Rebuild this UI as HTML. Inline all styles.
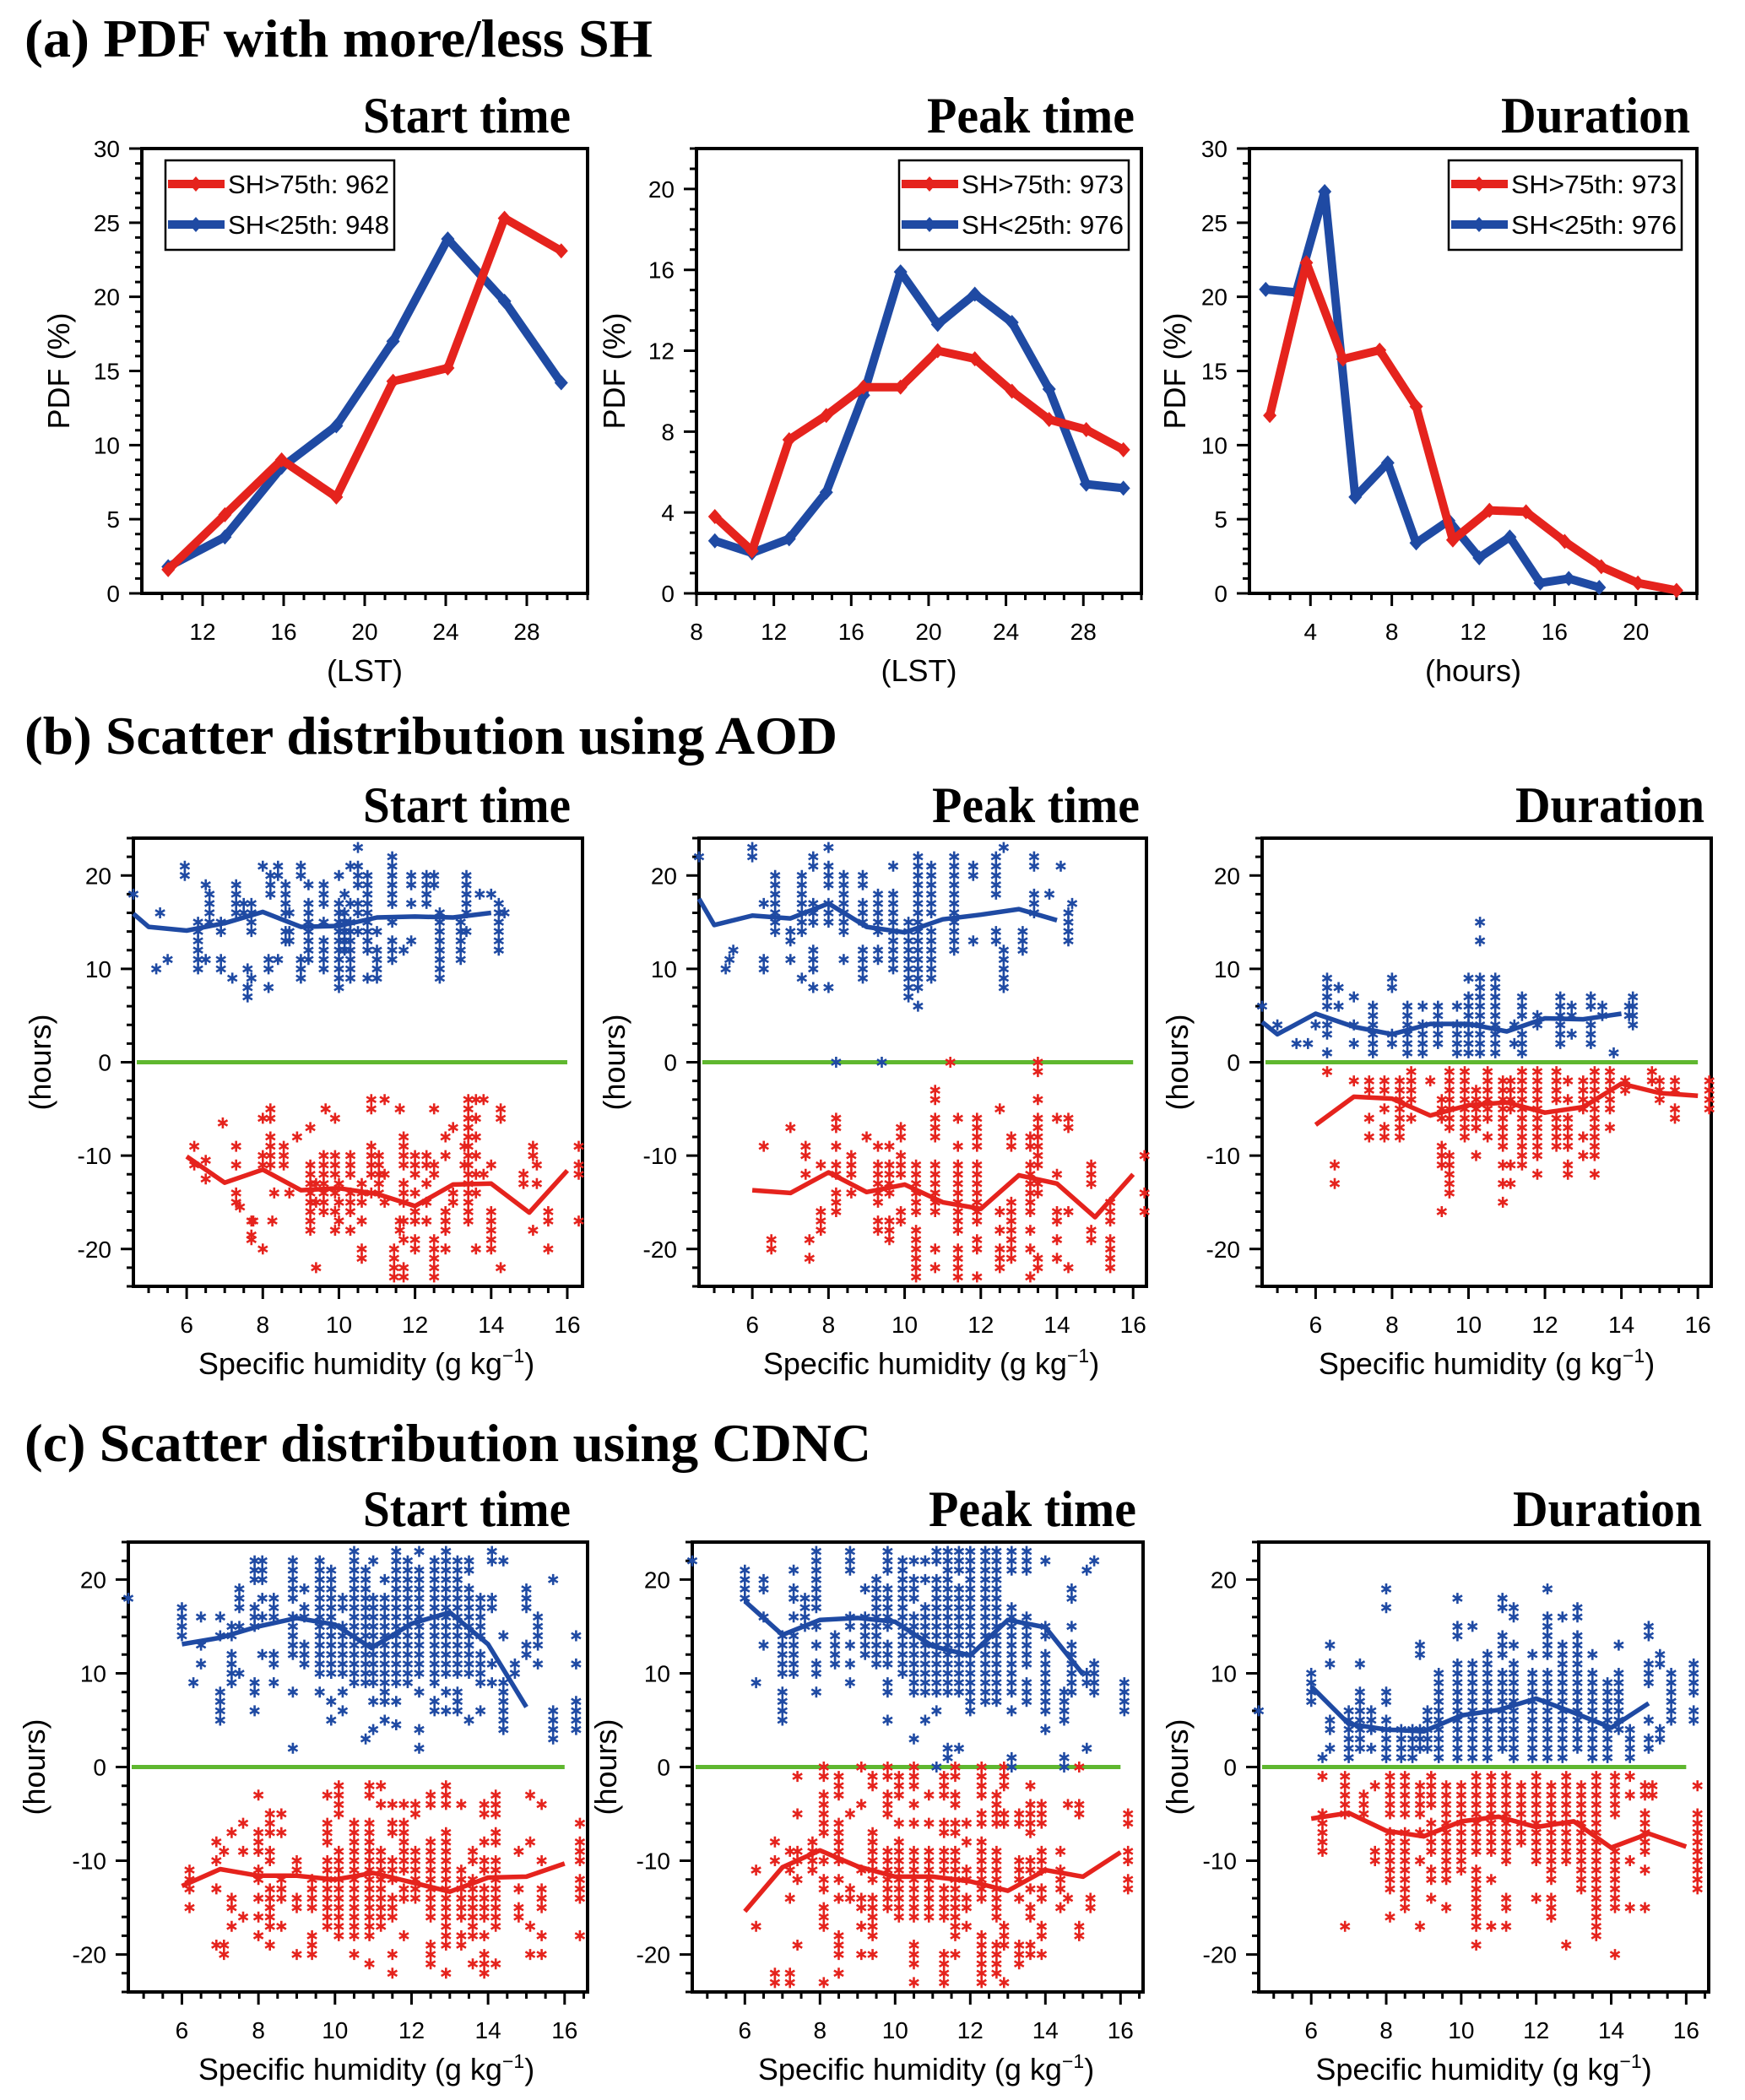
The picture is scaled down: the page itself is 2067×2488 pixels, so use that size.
<!DOCTYPE html>
<html><head><meta charset="utf-8"><title>PDF and scatter distributions by specific humidity</title>
<style>
html,body{margin:0;padding:0;background:#fff;}
svg{display:block;}
text{font-family:"Liberation Sans",sans-serif;fill:#000;}
.serif{font-family:"Liberation Serif",serif;font-weight:bold;}
</style></head>
<body>
<svg id="fig" xmlns="http://www.w3.org/2000/svg" width="2067" height="2488" viewBox="0 0 2067 2488"></svg>
<script>
// ---------- Row (a) PDF data ----------
const aStartX = [10.3,13.1,15.9,18.6,21.4,24.1,26.9,29.7];
const aStartRed = [1.6,5.3,9.0,6.5,14.3,15.2,25.3,23.1];
const aStartBlue = [1.8,3.8,8.5,11.3,17.0,23.9,19.7,14.2];
const aPeakX = [8.95,10.87,12.79,14.71,16.63,18.55,20.47,22.39,24.31,26.23,28.15,30.07];
const aPeakRed = [3.8,2.1,7.6,8.8,10.2,10.2,12.0,11.6,10.0,8.6,8.1,7.1];
const aPeakBlue = [2.6,2.0,2.7,5.0,9.8,15.9,13.3,14.8,13.4,10.1,5.4,5.2];
const aDurRedX = [2.0,3.8,5.6,7.4,9.2,11.0,12.8,14.6,16.5,18.3,20.1,22.0];
const aDurRed = [12.0,22.3,15.8,16.4,12.6,3.6,5.6,5.5,3.5,1.8,0.7,0.2];
const aDurBlueX = [1.8,3.3,4.7,6.2,7.8,9.2,10.8,12.3,13.8,15.3,16.7,18.2];
const aDurBlue = [20.5,20.3,27.1,6.5,8.8,3.4,4.9,2.4,3.8,0.7,1.0,0.4];
const legendStart = ["SH>75th: 962","SH<25th: 948"];
const legendPeak = ["SH>75th: 973","SH<25th: 976"];
const legendDur = ["SH>75th: 973","SH<25th: 976"];

// ---------- Binned mean lines (rows b, c) ----------
const binX = [6,7,8,9,10,11,12,13,14,15,16];
const bStartBlueLineX = [4.6,5,6,7,8,9,10,11,12,13,14];
const bStartBlueLine = [15.9,14.5,14.1,14.9,16.1,14.5,14.6,15.5,15.6,15.5,16.0];
const bStartRedLine = [-10.1,-12.9,-11.5,-13.7,-13.5,-14.1,-15.4,-13.1,-13.0,-16.1,-11.6];
const bPeakBlueLineX = [4.6,5,6,7,8,9,10,11,12,13,14];
const bPeakBlueLine = [17.5,14.7,15.7,15.4,17.0,14.5,13.9,15.3,15.8,16.4,15.2];
const bPeakRedLine = [-13.7,-14.0,-11.8,-13.9,-13.1,-15.0,-15.7,-12.1,-13.0,-16.6,-12.0];
const bDurBlueLineX = [4.6,5,6,7,8,9,10,11,12,13,14];
const bDurBlueLine = [4.3,3.0,5.2,3.8,3.0,4.1,4.1,3.3,4.7,4.6,5.2];
const bDurRedLine = [-6.7,-3.7,-3.9,-5.7,-4.6,-4.3,-5.4,-4.8,-2.3,-3.3,-3.6];
const cStartBlueLineX = [6,7,8,9,10,10.95,12,13,14,15];
const cStartBlueLine = [13.1,13.8,15.0,15.9,15.2,12.7,15.3,16.5,13.1,6.4];
const cStartRedLine = [-12.7,-10.9,-11.6,-11.6,-12.0,-11.3,-12.3,-13.3,-11.8,-11.7,-10.3];
const cPeakBlueLineX = [6,7,8,9,10,11,12,13,14,15];
const cPeakBlueLine = [17.7,14.1,15.7,15.9,15.5,12.9,11.9,15.7,14.9,9.9];
const cPeakRedLine = [-15.4,-10.7,-8.9,-10.6,-11.7,-11.7,-12.2,-13.2,-11.0,-11.7,-9.1];
const cDurBlueLineX = [6,7,8,9,10,11,12,13,14,15];
const cDurBlueLine = [8.6,4.6,4.0,3.8,5.5,6.1,7.3,5.8,4.2,6.8];
const cDurRedLine = [-5.5,-4.9,-6.8,-7.4,-5.8,-5.3,-6.4,-5.8,-8.6,-7.1,-8.5];

// ---------- Scatter columns: [specific humidity, [hours...]] ----------
const bStartBlueCols = [[4.6,[18]],[5.3,[16]],[5.2,[10]],[5.5,[11]],[5.95,[20,21]],[6.3,[15,14,13,12,11,10]],[6.5,[19,11]],[6.6,[18,17,16,15]],[6.9,[15,11,10,14]],[7.2,[9]],[7.3,[19,18,17,16]],[7.5,[17,16]],[7.6,[10,8,7]],[7.7,[17,16,15,14,9]],[8.0,[21]],[8.15,[10,11,8]],[8.2,[20,19,18]],[8.4,[21,20,11]],[8.6,[19,18,17,16,14,13]],[8.7,[16,14,13]],[9.0,[21,20,11,10,9]],[9.2,[17,16,15,14,13,12,11,19]],[9.6,[18,17,15,13,12,11,10,19]],[10.0,[20,17,16,15,14,13,12,11,10,9,8]],[10.15,[16,15,14,13,12,18]],[10.3,[21,17,15,14,13,12,11,10,9]],[10.5,[23,21,20,19,17,16,14]],[10.75,[20,19,18,17,16,15,14,13,12,9]],[11.0,[14,12,11,10,9]],[11.4,[22,21,20,19,18,17,15,13,12,11]],[11.7,[12]],[11.9,[20,19,17,13]],[12.3,[20,19,18,17]],[12.5,[20,19]],[12.65,[16,15,14,13,12,11,10,9]],[13.2,[15,14,13,12,11]],[13.35,[20,19,18,17,16,14]],[13.7,[18]],[14.0,[18]],[14.2,[17,16,15,14,13,12]],[14.35,[16]]];
const bStartRedCols = [[6.2,[-9,-11]],[6.5,[-10.5,-12.5]],[6.95,[-6.5]],[7.3,[-9,-11,-14,-15]],[7.4,[-15.5]],[7.7,[-17,-18.5,-19]],[7.75,[-17]],[8.0,[-10,-20,-6,-11]],[8.2,[-5,-6,-8,-9,-10,-11]],[8.25,[-17]],[8.3,[-14]],[8.55,[-9,-10,-11]],[8.7,[-14]],[8.9,[-8]],[9.25,[-7,-11,-12,-13,-14,-15,-16,-17,-18]],[9.4,[-13,-15,-22]],[9.6,[-10,-11,-12,-13,-14,-15,-16]],[9.65,[-5]],[9.9,[-6,-10,-11,-12,-14,-16,-18]],[10.0,[-13,-15,-17]],[10.3,[-10,-11,-12,-14,-15,-16,-18]],[10.6,[-13,-14,-15,-17,-20,-21]],[10.85,[-4,-5,-9,-10,-11,-12,-14]],[11.05,[-10,-11,-12,-13,-14]],[11.2,[-4,-12,-15]],[11.45,[-20,-21,-22,-23]],[11.6,[-5,-17,-18]],[11.7,[-8,-9,-10,-11,-13,-14,-15,-17,-19,-22,-23]],[12.0,[-10,-11,-12,-14,-16,-17,-19,-20]],[12.3,[-10,-11,-13,-15,-17]],[12.5,[-5,-11,-12,-19,-20,-21,-22,-23]],[12.8,[-8,-10,-16,-17,-18,-20]],[13.0,[-7,-14,-15]],[13.3,[-9,-11]],[13.4,[-4,-5,-6,-7,-8,-9,-10,-11,-12,-13,-14,-15,-16,-17]],[13.6,[-4,-6,-8,-10,-12,-14,-20]],[13.8,[-4,-12]],[14.0,[-11,-16,-17,-18,-19,-20]],[14.25,[-5,-6,-22]],[14.85,[-12,-13]],[15.1,[-9,-10,-18]],[15.2,[-11,-13]],[15.5,[-16,-17,-20]],[16.3,[-9,-11,-12,-17]]];
const bPeakBlueCols = [[4.6,[22]],[5.3,[10]],[5.4,[11]],[5.5,[12]],[6.0,[23,22]],[6.3,[11,10,17]],[6.6,[17,16,15,14,20,19,18]],[7.0,[14,13,11]],[7.3,[20,19,18,17,16,15,14,9]],[7.6,[22,21,17,16,15,12,11,10,8]],[8.0,[23,21,20,19,17,16,15,8]],[8.2,[0]],[8.4,[20,19,18,17,16,15,14,11]],[8.9,[20,19,17,16,15,12,11,10,9]],[9.3,[18,17,16,15,14,11,12]],[9.4,[0]],[9.7,[21,18,17,16,15,14,13,12,11,10]],[10.1,[15,14,13,12,11,10,9,8,7]],[10.35,[22,21,20,19,18,17,16,15,14,13,12,11,10,9,8,6]],[10.7,[21,20,19,18,17,16,14,13,12,11,10,9]],[11.3,[22,21,20,19,18,17,16,15,14,13,12]],[11.8,[21,20,13]],[12.4,[22,21,20,19,18,14,13]],[12.6,[23,12,11,10,9,8]],[13.1,[14,13,12]],[13.4,[22,21,18,17,16]],[13.8,[18]],[14.1,[21]],[14.3,[16,15,14,13]],[14.4,[17]]];
const bPeakRedCols = [[6.3,[-9]],[6.5,[-19,-20]],[7.0,[-7]],[7.4,[-9,-10,-12]],[7.5,[-19,-21]],[7.8,[-11,-18,-17,-16]],[8.2,[-6,-7,-9,-11,-12,-14,-15,-16]],[8.6,[-11,-12,-14,-10]],[9.0,[-8]],[9.3,[-11,-12,-13,-14,-15,-17,-18,-9]],[9.6,[-9,-11,-12,-13,-14,-17,-18,-19]],[9.9,[-7,-8,-10,-11,-12,-16,-17]],[10.3,[-11,-12,-13,-14,-15,-16,-18,-19,-20,-21,-22,-23]],[10.8,[-3,-4,-6,-7,-8,-11,-12,-13,-14,-15,-16,-20,-22]],[11.2,[0]],[11.4,[-6,-9,-11,-12,-13,-14,-15,-16,-17,-18,-20,-21,-22,-23]],[11.9,[-6,-7,-8,-9,-11,-12,-13,-14,-15,-16,-17,-19,-20,-23]],[12.5,[-5,-16,-18,-20,-21,-22]],[12.8,[-8,-9,-15,-16,-17,-18,-19,-20,-21]],[13.3,[-8,-9,-11,-12,-13,-14,-15,-16,-18,-20,-23]],[13.5,[0,-1,-4,-6,-7,-8,-9,-10,-11,-13,-14,-21,-22]],[14.0,[-6,-12,-16,-17,-19,-21]],[14.3,[-6,-7,-16,-22]],[14.9,[-11,-12,-13,-18,-19]],[15.4,[-15,-16,-17,-19,-20,-21,-22]],[16.3,[-10,-14,-16]]];
const bDurBlueCols = [[4.6,[6]],[5.0,[4]],[5.5,[2]],[5.8,[2]],[6.0,[4]],[6.3,[9,8,7,6,4,3,1]],[6.6,[8,6]],[7.0,[7,4,2]],[7.5,[6,5,4,3,2,1]],[8.0,[9,8,3,2]],[8.4,[6,5,4,3,2,1]],[8.8,[6,4,3,2,1]],[9.2,[6,5,4,3,2]],[9.7,[6,4,3,2,1]],[10.0,[9,7,6,5,4,3,2,1]],[10.3,[15,13,9,8,7,6,5,4,3,2,1]],[10.7,[9,8,7,6,5,4,3,2,1]],[11.2,[4,2]],[11.4,[7,6,5,3,2,1]],[11.8,[5,4]],[12.4,[7,6,5,4,3,2]],[12.7,[6,5,3]],[13.2,[7,6,4,3,2]],[13.5,[6,5]],[13.8,[1]],[14.2,[6,5]],[14.3,[7,6,5,4]]];
const bDurRedCols = [[6.3,[-1]],[6.5,[-11,-13]],[7.0,[-2]],[7.4,[-2,-3,-6,-8]],[7.8,[-2,-3,-5,-7,-8]],[8.2,[-2,-3,-4,-5,-6,-7,-8]],[8.5,[-1,-2,-3,-4,-6]],[9.0,[-2]],[9.3,[-4,-5,-6,-9,-10,-11,-16]],[9.5,[-1,-2,-3,-4,-5,-6,-7,-10,-11,-12,-13,-14]],[9.9,[-1,-2,-3,-4,-5,-6,-7,-8]],[10.2,[-3,-4,-5,-6,-7,-10]],[10.5,[-1,-2,-3,-4,-5,-6,-8]],[10.9,[-2,-3,-4,-5,-6,-7,-8,-9,-11,-13,-15]],[11.1,[-2,-3,-4,-5,-11,-13]],[11.4,[-1,-2,-3,-4,-5,-6,-7,-8,-9,-10,-11]],[11.8,[-1,-2,-3,-4,-5,-6,-7,-8,-9,-10,-12]],[12.3,[-1,-2,-3,-4,-6,-7,-8,-9]],[12.6,[-2,-4,-6,-7,-8,-9,-11,-12]],[13.0,[-2,-3,-4,-5,-8,-10]],[13.3,[-1,-2,-3,-4,-5,-6,-7,-8,-9,-10,-12]],[13.7,[-1,-2,-3,-4,-5,-7]],[14.1,[-2,-3]],[14.8,[-1,-2]],[15.0,[-2,-3,-4]],[15.4,[-2,-3,-5,-6]],[16.3,[-2,-3,-4,-5]]];
const cStartBlueCols = [[4.6,[18]],[6.0,[17,16,15,14]],[6.3,[9]],[6.5,[16,13,11]],[7.0,[16,14,8,7,6,5]],[7.3,[15,14,12,11,10,9]],[7.5,[19,18,17,15,10]],[7.9,[22,21,20,17,16,15,9,8,6]],[8.1,[22,21,20,18,16,12]],[8.4,[18,17,16,12,11,9]],[8.9,[22,21,20,19,18,16,15,14,13,12,8,2]],[9.2,[19,17,16,13,12,11]],[9.6,[22,21,20,19,18,17,16,15,14,13,12,11,10,8]],[9.9,[21,20,19,18,17,16,15,14,13,12,11,10,7,5]],[10.2,[18,17,15,14,13,12,11,10,8,6]],[10.5,[23,22,21,20,19,18,17,16,15,14,13,12,11,10,9]],[10.8,[21,20,19,18,17,16,15,14,13,12,11,10,9,3]],[11.0,[22,18,17,16,15,14,13,12,11,10,9,7,4]],[11.3,[20,18,17,16,15,14,13,12,11,10,9,8,7,5]],[11.6,[23,22,21,20,19,18,17,16,15,14,13,12,11,10,9,7,4.5]],[11.9,[22,21,20,19,18,17,16,15,14,13,12,11,10,9]],[12.2,[23,21,20,19,18,17,16,15,14,13,12,11,10,8,4,2]],[12.6,[22,21,20,19,18,17,16,15,14,13,12,11,10,9,7,6]],[12.9,[23,22,21,20,19,18,17,16,15,14,13,12,11,10,8,6]],[13.2,[22,21,20,19,18,17,16,15,14,13,12,11,10,8,7,6]],[13.5,[22,21,19,18,17,16,15,14,13,12,11,10,5]],[13.8,[18,17,16,15,14,12,11,10,9,6]],[14.1,[23,22,18,17,11,9]],[14.4,[22,14,9,8,7,6,5,4]],[14.7,[11,10]],[15.0,[19,18,17,13,12]],[15.3,[16,15,14,13,11]],[15.7,[20,6,5,4,3]],[16.3,[14,11,7,6,5,4]]];
const cStartRedCols = [[6.2,[-11,-12,-13,-15]],[6.9,[-8,-10,-13,-19]],[7.1,[-9,-19,-20]],[7.3,[-7,-14,-15,-17]],[7.6,[-6,-9,-16]],[8.0,[-3,-7,-8,-9,-11,-12,-14,-16,-18]],[8.3,[-5,-6,-7,-9,-10,-13,-14,-15,-16,-17,-19]],[8.6,[-5,-7,-12,-13,-14,-17]],[9.0,[-10,-11,-14,-15,-20]],[9.4,[-12,-13,-14,-15,-18,-19,-20]],[9.8,[-3,-6,-7,-8,-10,-11,-12,-13,-14,-15,-16,-17]],[10.1,[-2,-3,-4,-5,-9,-10,-11,-12,-13,-14,-15,-16,-17,-18]],[10.5,[-6,-7,-8,-9,-10,-11,-12,-13,-14,-15,-16,-17,-18,-20]],[10.9,[-2,-3,-6,-7,-8,-9,-10,-11,-12,-13,-14,-15,-16,-17,-18,-21]],[11.2,[-2,-4,-9,-10,-11,-12,-13,-14,-15,-16,-17]],[11.5,[-4,-6,-7,-10,-11,-12,-14,-15,-16,-20,-22]],[11.8,[-4,-6,-7,-8,-9,-10,-11,-13,-14,-18]],[12.1,[-4,-5,-9,-10,-11,-12,-13,-14]],[12.5,[-3,-4,-8,-9,-10,-11,-12,-13,-14,-15,-16,-19,-20,-21]],[12.9,[-2,-3,-4,-7,-8,-9,-10,-11,-12,-13,-14,-15,-16,-17,-18,-19,-22]],[13.3,[-4,-11,-12,-13,-14,-15,-16,-18,-19]],[13.6,[-9,-10,-12,-13,-14,-15,-16,-17,-18,-21]],[13.9,[-4,-5,-8,-10,-11,-13,-14,-15,-16,-18,-20,-21,-22]],[14.2,[-3,-4,-5,-7,-8,-10,-11,-12,-13,-14,-15,-16,-17,-21]],[14.8,[-9,-13,-15,-16]],[15.1,[-3,-8,-17,-20]],[15.4,[-4,-10,-13,-14,-15,-18,-20]],[16.4,[-6,-8,-9,-10,-12,-13,-14,-18]]];
const cPeakBlueCols = [[4.6,[22]],[6.0,[21,20,19,18]],[6.3,[9]],[6.5,[20,19,16,13]],[7.0,[14,13,12,11,10,8,7,6,5]],[7.3,[21,19,18,16,14,13,12,11,10]],[7.6,[18,17,16,15]],[7.9,[23,22,21,20,19,18,17,15,13,11,10,8]],[8.4,[14,13,12,11]],[8.8,[23,22,21,16,15,13,11,9]],[9.2,[19,16,15,14,13,12]],[9.5,[20,19,18,17,16,15,14,13,12,11]],[9.8,[23,22,21,19,18,17,16,15,13,12,11,9,8,5]],[10.2,[22,21,20,19,18,17,16,15,14,13,12,11,10]],[10.5,[22,20,19,18,16,15,14,13,12,11,10,9,8,3]],[10.8,[22,20,17,16,15,14,13,12,11,10,9,8,5]],[11.1,[23,22,20,19,18,17,16,15,14,13,12,11,10,9,8,6,0]],[11.4,[23,22,21,20,19,18,17,16,15,14,13,12,11,10,9,8,2,1]],[11.7,[23,22,21,19,18,17,16,15,14,13,12,11,10,9,8,2]],[12.0,[23,22,21,20,19,18,17,16,15,14,13,12,11,10,9,8,7,6]],[12.4,[23,22,21,20,19,18,17,16,15,14,13,12,11,10,9,8,7]],[12.7,[23,22,21,20,19,18,17,16,15,14,13,12,11,10,9,8,7]],[13.1,[23,22,21,17,16,15,14,13,12,11,10,9,8,6,1,0]],[13.5,[23,22,21,16,15,14,13,12,11,9,8,7]],[14.0,[22,15,14,12,11,10,9,8,7,6,4]],[14.5,[8,7,6,5,1,0]],[14.7,[19,18,15,13,12,11,10,9,8]],[15.1,[21,10,9,2]],[15.3,[22,11,10,9,8]],[16.1,[9,8,7,6]]];
const cPeakRedCols = [[6.3,[-11,-17]],[6.8,[-8,-10,-22,-23]],[7.2,[-9,-11,-14,-22,-23]],[7.4,[-1,-5,-9,-10,-12,-19]],[7.8,[-8,-9,-10,-11]],[8.1,[0,-1,-3,-4,-5,-6,-7,-10,-12,-13,-15,-16,-17,-23]],[8.5,[-1,-2,-3,-6,-7,-8,-9,-10,-12,-14,-18,-19,-20,-22]],[8.8,[-5,-13,-14]],[9.1,[0,-4,-11,-14,-15,-17,-20]],[9.4,[-1,-2,-7,-8,-9,-10,-11,-12,-14,-15,-16,-17,-18,-20]],[9.8,[0,-1,-3,-4,-5,-9,-10,-11,-12,-13,-14,-15]],[10.1,[-1,-2,-3,-6,-8,-9,-10,-11,-12,-13,-14,-15,-16]],[10.5,[0,-1,-2,-4,-6,-9,-10,-11,-12,-13,-14,-15,-16,-19,-20,-21,-23]],[10.9,[-3,-6,-9,-10,-11,-12,-13,-14,-15,-16]],[11.3,[-1,-2,-3,-6,-7,-9,-10,-11,-13,-14,-15,-16,-20,-21,-22,-23]],[11.6,[0,-1,-3,-4,-6,-7,-9,-10,-11,-12,-13,-14,-15,-16,-17,-18,-20]],[11.9,[-6,-8,-11,-12,-14,-15,-17]],[12.3,[0,-1,-2,-3,-5,-6,-8,-9,-10,-11,-12,-13,-14,-18,-19,-20,-21,-22,-23]],[12.7,[-3,-4,-5,-6,-9,-10,-11,-12,-13,-14,-15,-16,-19,-20,-21,-22]],[12.9,[0,-1,-2,-5,-6,-17,-18,-19,-23]],[13.3,[-5,-6,-10,-11,-12,-14,-19,-20,-21]],[13.6,[-2,-4,-5,-6,-7,-10,-11,-13,-15,-16,-19,-20]],[13.9,[-4,-5,-6,-9,-10,-11,-13,-14,-17,-18,-20]],[14.4,[-9,-11,-12,-13,-15]],[14.6,[-4,-14]],[14.9,[0,-4,-5,-17,-18]],[15.2,[-14,-15]],[16.2,[-5,-6,-9,-10,-12,-13]]];
const cDurBlueCols = [[4.6,[6]],[6.0,[10,9,8,7]],[6.3,[1]],[6.5,[13,11,5,4,2]],[7.0,[6,5,4,3,2,1]],[7.3,[11,8,7,6,5,4,3,2]],[7.6,[6,5,4,2]],[8.0,[19,17,8,7,5,4,3,2,1]],[8.4,[4,3,2,1]],[8.7,[4,3,2,1]],[8.9,[13,12,4,3,2]],[9.1,[6,5,4,3,2]],[9.4,[10,9,8,7,6,5,4,3,2,1]],[9.9,[18,15,14,11,10,9,8,7,6,5,4,3,2,1]],[10.3,[15,11,10,9,8,7,6,5,4,3,2,1]],[10.7,[12,11,10,9,8,7,6,5,4,3,2,1]],[11.1,[18,17,14,13,12,10,9,8,7,6,5,4,3,2]],[11.4,[17,16,13,11,10,9,8,7,6,5,4,3,2,1]],[11.9,[12,10,9,8,7,6,5,4,3,2,1]],[12.3,[19,16,15,14,13,12,10,9,8,7,6,5,4,3,2,1]],[12.7,[16,13,12,11,10,9,8,7,6,5,4,3,2,1]],[13.1,[17,16,14,13,12,11,10,9,8,7,6,5,4,3,2]],[13.5,[12,10,9,8,7,6,5,4,3,2,1]],[13.9,[9,8,7,6,5,4,3,2,1]],[14.2,[13,10,9,8,7,6,5,4]],[14.5,[4,3,2,1]],[15.0,[15,14,11,10,9,5,3,2]],[15.3,[12,11,4,3]],[15.6,[10,9,8,7,6,5]],[16.2,[11,10,9,8,6,5]]];
const cDurRedCols = [[6.3,[-1,-5,-6,-7,-8,-9]],[6.9,[-1,-2,-3,-4,-5,-17]],[7.4,[-3,-4,-5]],[7.7,[-2,-9,-10]],[8.1,[-1,-2,-3,-4,-5,-7,-8,-9,-10,-11,-12,-13,-16]],[8.5,[-1,-2,-3,-4,-5,-7,-8,-9,-10,-11,-12,-13,-14,-15]],[8.9,[-2,-3,-4,-5,-7,-10,-17]],[9.2,[-1,-2,-3,-4,-6,-7,-8,-9,-11,-12,-14]],[9.6,[-2,-3,-4,-5,-6,-7,-8,-9,-10,-11,-12,-15]],[10.0,[-2,-3,-4,-5,-6,-7,-8,-9,-10,-11]],[10.4,[-1,-2,-3,-4,-5,-6,-7,-8,-9,-11,-12,-13,-14,-15,-16,-17,-19]],[10.8,[-1,-2,-3,-4,-5,-6,-7,-8,-9,-12,-17]],[11.2,[-1,-2,-3,-4,-5,-6,-7,-8,-9,-10,-14,-15,-17]],[11.6,[-2,-3,-4,-5,-6,-7,-8]],[12.0,[-1,-2,-3,-4,-5,-6,-7,-8,-9,-10,-14]],[12.4,[-2,-3,-4,-5,-6,-7,-8,-9,-10,-11,-12,-14,-15,-16]],[12.8,[-1,-2,-3,-4,-5,-6,-7,-8,-9,-10,-19]],[13.2,[-2,-3,-4,-5,-6,-7,-8,-9,-10,-11,-12,-13]],[13.6,[-1,-2,-3,-4,-5,-6,-7,-8,-9,-10,-11,-12,-13,-14,-15,-16,-17,-18]],[14.1,[-1,-2,-3,-4,-5,-9,-10,-11,-12,-13,-14,-15,-20]],[14.5,[-1,-3,-10,-15]],[14.9,[-2,-3,-5,-6,-7,-8,-9,-11,-15]],[15.1,[-2,-3]],[16.3,[-2,-5,-6,-7,-8,-9,-10,-11,-12,-13]]];

// ---------- Rendering ----------
const NS = "http://www.w3.org/2000/svg";
const svg = document.getElementById("fig");
const RED = "#e5231d", BLUE = "#1f4aa3", GREEN = "#5fb72f";
function mk(tag, attrs, parent) {
  const e = document.createElementNS(NS, tag);
  for (const k in attrs) e.setAttribute(k, attrs[k]);
  (parent || svg).appendChild(e);
  return e;
}
function txt(str, attrs, parent) { const t = mk("text", attrs, parent); t.textContent = str; return t; }
function scale(d0, d1, r0, r1) { return v => r0 + (v - d0) * (r1 - r0) / (d1 - d0); }

function axes(g, P) {
  const X = P.sx, Y = P.sy;
  const fr = mk("rect", {x:P.x0, y:P.y0, width:P.x1-P.x0, height:P.y1-P.y0, fill:"none", stroke:"#000", "stroke-width":4}, g);
  
  
  let d = "";
  for (let v = P.yMinorStart; v <= P.ymax + 1e-6; v += P.yMinor) {
    const major = Math.abs(Math.round(v / P.yMajor) * P.yMajor - v) < 1e-6;
    const y = Y(v); d += `M${P.x0},${y}h${major ? -15 : -8}`;
    if (major) {
      const t = txt(String(Math.round(v)), {x:P.x0-26, y:y+10, "font-size":28, "text-anchor":"end"}, g);
      
      
    }
  }
  for (let v = P.xMinorStart; v <= P.xmax + 1e-6; v += P.xMinor) {
    const major = Math.abs(Math.round(v / P.xMajor) * P.xMajor - v) < 1e-6 && v >= P.xLabelMin;
    const x = X(v); d += `M${x},${P.y1}v${major ? 15 : 8}`;
    if (major) {
      const t = txt(String(Math.round(v)), {x:x, y:P.y1+55, "font-size":28, "text-anchor":"middle"}, g);
      
      
    }
  }
  const tk = mk("path", {d:d, stroke:"#000", "stroke-width":3, fill:"none"}, g);
  
  
  const yl = txt(P.ylabel, {x:P.ylx, y:(P.y0+P.y1)/2, "font-size":36, "text-anchor":"middle", transform:`rotate(-90 ${P.ylx} ${(P.y0+P.y1)/2})`, dy:12}, g);
  
  
  const xl = txt("", {x:(P.x0+P.x1)/2 + (P.xlOff||0), y:P.y1+104, "font-size":36, "text-anchor":"middle"}, g);
  
  
  if (P.sup) {
    xl.appendChild(document.createTextNode(P.xlabel));
    const s = document.createElementNS(NS, "tspan"); s.setAttribute("dy", -14); s.setAttribute("font-size", 23); s.textContent = "\u22121"; xl.appendChild(s);
    const s2 = document.createElementNS(NS, "tspan"); s2.setAttribute("dy", 14); s2.textContent = ")"; xl.appendChild(s2);
  } else xl.textContent = P.xlabel;
  const tt = txt(P.title, {x:P.x1-P.tOff, y:P.y0-19, "font-size":60, "text-anchor":"end", class:"serif", textLength:P.tLen, lengthAdjust:"spacingAndGlyphs"}, g);
  
  
}

function pdfPanel(name, P, xsR, red, xsB, blue, leg, lx0, lx1) {
  const g = mk("g", {});  
  P.sx = scale(P.xmin, P.xmax, P.x0, P.x1); P.sy = scale(P.ymin, P.ymax, P.y1, P.y0);
  axes(g, P);
  [[xsB, blue, BLUE, "blue-series-line"], [xsR, red, RED, "red-series-line"]].forEach(([xs, ys, c, nm]) => {
    const pts = xs.map((x, i) => `${P.sx(x).toFixed(1)},${P.sy(ys[i]).toFixed(1)}`).join(" ");
    const pl = mk("polyline", {points:pts, fill:"none", stroke:c, "stroke-width":10, "stroke-linejoin":"round"}, g);
    
    
    xs.forEach((x, i) => {
      const m = mk("path", {d:`M${P.sx(x)},${P.sy(ys[i])-9}l8,9l-8,9l-8,-9z`, fill:c}, g);
      
      
    });
  });
  const lg = mk("g", {}, g);  
  const bx = mk("rect", {x:lx0, y:190, width:lx1-lx0, height:106, fill:"#fff", stroke:"#000", "stroke-width":2.5}, lg);
  
  
  [[RED, 218, leg[0]], [BLUE, 266, leg[1]]].forEach(([c, y, s]) => {
    const l = mk("path", {d:`M${lx0+3},${y}h67`, stroke:c, "stroke-width":10}, lg);
    
    
    const dm = mk("path", {d:`M${lx0+36},${y-9}l8,9l-8,9l-8,-9z`, fill:c}, lg);
    
    
    const t = txt(s, {x:lx0+74, y:y+11, "font-size":31, textLength:lx1-lx0-80, lengthAdjust:"spacingAndGlyphs"}, lg);
    
    
  });
}

function star(x, y) {
  return `M${x.toFixed(1)},${(y-6.5).toFixed(1)}v13M${(x-5.6).toFixed(1)},${(y-3.2).toFixed(1)}l11.2,6.4M${(x-5.6).toFixed(1)},${(y+3.2).toFixed(1)}l11.2,-6.4`;
}
function scatterPanel(name, P, blueCols, redCols, bLx, bLy, rLy) {
  const g = mk("g", {});  
  P.sx = scale(P.xmin, P.xmax, P.x0, P.x1); P.sy = scale(P.ymin, P.ymax, P.y1, P.y0);
  P.ymin = -24; P.yMajor = 10; P.yMinor = 2; P.yMinorStart = -24;
  P.xMajor = 2; P.xMinor = 0.5; P.xMinorStart = 5; P.xLabelMin = 6;
  P.ylabel = "(hours)"; P.xlabel = "Specific humidity (g kg"; P.sup = true;
  axes(g, P);
  const z = mk("path", {d:`M${P.x0+4},${P.sy(0)}H${P.sx(16)}`, stroke:GREEN, "stroke-width":5}, g);
  
  
  [[redCols, RED, "red-scatter-point"], [blueCols, BLUE, "blue-scatter-point"]].forEach(([cols, c, nm]) => {
    cols.forEach(([x, ys]) => ys.forEach(y => {
      const p = mk("path", {d:star(P.sx(x), P.sy(y)), stroke:c, "stroke-width":2.6, fill:"none"}, g);
      
      
    }));
  });
  const bl = mk("polyline", {points:bLx.map((x, i) => `${P.sx(x).toFixed(1)},${P.sy(bLy[i]).toFixed(1)}`).join(" "), fill:"none", stroke:BLUE, "stroke-width":5.5, "stroke-linejoin":"round"}, g);
  
  
  const rl = mk("polyline", {points:binX.map((x, i) => `${P.sx(x).toFixed(1)},${P.sy(rLy[i]).toFixed(1)}`).join(" "), fill:"none", stroke:RED, "stroke-width":5.5, "stroke-linejoin":"round"}, g);
  
  
}

// Section titles
[["(a) PDF with more/less SH", 67, 744], ["(b) Scatter distribution using AOD", 893, 963], ["(c) Scatter distribution using CDNC", 1731, 1003]].forEach(([s, y, w]) => {
  const t = txt(s, {x:29, y:y, "font-size":64, class:"serif", textLength:w, lengthAdjust:"spacingAndGlyphs"});
  
  
});

const rowA = {y0:176, y1:703, ymin:0, yMinor:1};
pdfPanel("pdf-start-time", Object.assign({}, rowA, {x0:168, x1:696, xmin:9, xmax:31, ymax:30, yMajor:5, yMinorStart:0, xMajor:4, xMinor:1, xMinorStart:10, xLabelMin:12, ylabel:"PDF (%)", ylx:70, xlabel:"(LST)", title:"Start time", tOff:20, tLen:246}), aStartX, aStartRed, aStartX, aStartBlue, legendStart, 196, 467);
pdfPanel("pdf-peak-time", Object.assign({}, rowA, {x0:825, x1:1352, xmin:8, xmax:31, ymax:22, yMajor:4, yMinorStart:0, xMajor:4, xMinor:1, xMinorStart:8, xLabelMin:8, ylabel:"PDF (%)", ylx:728, xlabel:"(LST)", title:"Peak time", tOff:8, tLen:246}), aPeakX, aPeakRed, aPeakX, aPeakBlue, legendPeak, 1065, 1337);
pdfPanel("pdf-duration", Object.assign({}, rowA, {x0:1480, x1:2010, xmin:1, xmax:23, ymax:30, yMajor:5, yMinorStart:0, xMajor:4, xMinor:1, xMinorStart:2, xLabelMin:4, ylabel:"PDF (%)", ylx:1392, xlabel:"(hours)", title:"Duration", tOff:8, tLen:224}), aDurRedX, aDurRed, aDurBlueX, aDurBlue, legendDur, 1716, 1992);

scatterPanel("aod-start-time", {x0:158, x1:690, y0:993, y1:1524, xmin:4.6, xmax:16.4, ymin:-24, ymax:24, ylx:48, title:"Start time", tOff:14, tLen:246, xlOff:10}, bStartBlueCols, bStartRedCols, bStartBlueLineX, bStartBlueLine, bStartRedLine);
scatterPanel("aod-peak-time", {x0:828, x1:1358, y0:993, y1:1524, xmin:4.6, xmax:16.35, ymin:-24, ymax:24, ylx:728, title:"Peak time", tOff:8, tLen:246, xlOff:10}, bPeakBlueCols, bPeakRedCols, bPeakBlueLineX, bPeakBlueLine, bPeakRedLine);
scatterPanel("aod-duration", {x0:1495, x1:2027, y0:993, y1:1524, xmin:4.6, xmax:16.35, ymin:-24, ymax:24, ylx:1395, title:"Duration", tOff:8, tLen:224, xlOff:0}, bDurBlueCols, bDurRedCols, bDurBlueLineX, bDurBlueLine, bDurRedLine);

scatterPanel("cdnc-start-time", {x0:152, x1:696, y0:1827, y1:2360, xmin:4.6, xmax:16.6, ymin:-24, ymax:24, ylx:41, title:"Start time", tOff:20, tLen:246, xlOff:10}, cStartBlueCols, cStartRedCols, cStartBlueLineX, cStartBlueLine, cStartRedLine);
scatterPanel("cdnc-peak-time", {x0:820, x1:1354, y0:1827, y1:2360, xmin:4.6, xmax:16.6, ymin:-24, ymax:24, ylx:718, title:"Peak time", tOff:8, tLen:246, xlOff:10}, cPeakBlueCols, cPeakRedCols, cPeakBlueLineX, cPeakBlueLine, cPeakRedLine);
scatterPanel("cdnc-duration", {x0:1491, x1:2024, y0:1827, y1:2360, xmin:4.6, xmax:16.6, ymin:-24, ymax:24, ylx:1395, title:"Duration", tOff:8, tLen:224, xlOff:0}, cDurBlueCols, cDurRedCols, cDurBlueLineX, cDurBlueLine, cDurRedLine);
</script>
</body></html>
